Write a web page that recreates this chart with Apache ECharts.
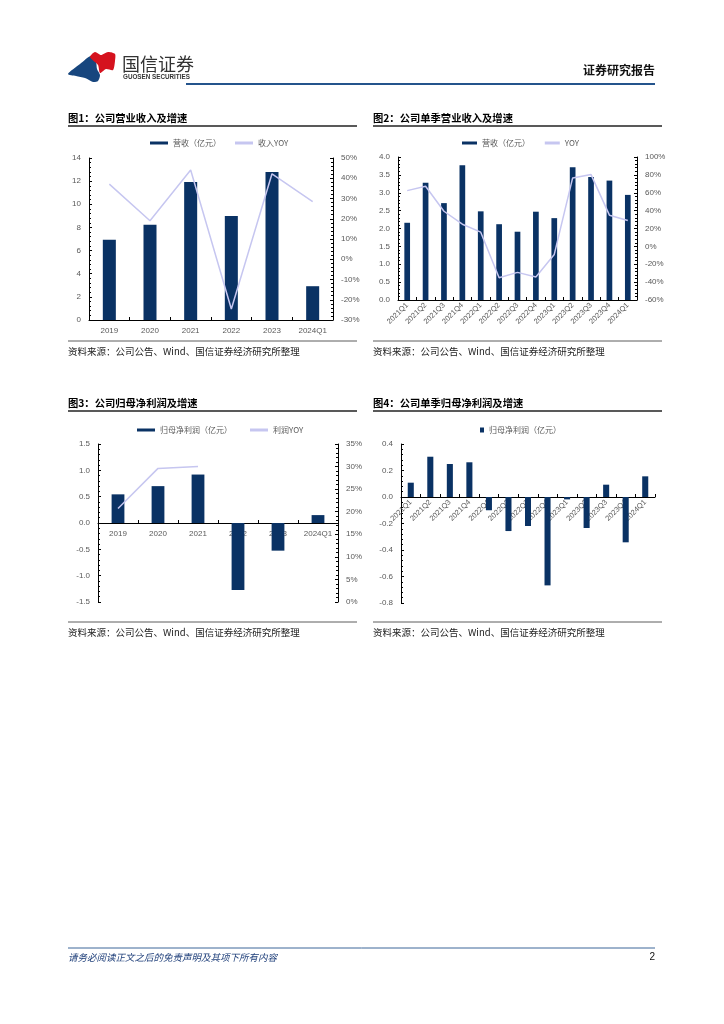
<!DOCTYPE html>
<html>
<head>
<meta charset="utf-8">
<script src="https://cdn.jsdelivr.net/npm/echarts@6/dist/echarts.min.js"></script>
<style>
html,body{margin:0;padding:0;background:#fff;}
#page{width:724px;height:1024px;}
</style>
</head>
<body>
<div id="page"></div>
<script>
// ---- data ----
const years = ['2019', '2020', '2021', '2022', '2023', '2024Q1'];
const revenue = [6.93, 8.23, 11.92, 8.98, 12.79, 2.92];
const revenueYoy = [37.1, 19.0, 44.1, -24.6, 42.2, 28.5];

const quarters = ['2021Q1', '2021Q2', '2021Q3', '2021Q4', '2022Q1', '2022Q2', '2022Q3', '2022Q4', '2023Q1', '2023Q2', '2023Q3', '2023Q4', '2024Q1'];
const qRevenue = [2.16, 3.28, 2.71, 3.77, 2.48, 2.12, 1.91, 2.47, 2.29, 3.71, 3.44, 3.34, 2.94];
const qRevenueYoy = [62.4, 67.3, 39.3, 24.8, 15.9, -35.0, -29.1, -34.3, -9.0, 76.6, 80.3, 34.9, 28.9];

const netProfit = [0.544, 0.70, 0.92, -1.27, -0.525, 0.15];
const profitYoy = [20.7, 29.6, 30.0, null, null, null];

const qNetProfit = [0.108, 0.304, 0.249, 0.262, -0.10, -0.257, -0.219, -0.667, -0.018, -0.234, 0.093, -0.342, 0.156];

const titles = ['图1：公司营业收入及增速', '图2：公司单季营业收入及增速', '图3：公司归母净利润及增速', '图4：公司单季归母净利润及增速'];
const sourceText = '资料来源：公司公告、Wind、国信证券经济研究所整理';

// ---- styles ----
const BAR = '#0a3264';
const LINE = '#c6c6f0';
const TXT = '#595959';
const FONT = 'Liberation Sans, Noto Sans CJK SC, sans-serif';
const CJK = 'Noto Sans CJK SC, sans-serif';

const chart = echarts.init(document.getElementById('page'), null, {renderer: 'canvas', width: 724, height: 1024});

const labelStyle = {color: TXT, fontSize: 8, fontFamily: FONT};
function valAxis(gi, pos, min, max, interval, fmt) {
  return {
    type: 'value', gridIndex: gi, position: pos, min: min, max: max, interval: interval,
    axisLine: {show: true, lineStyle: {color: '#000', width: 1}},
    axisTick: {show: true, inside: true, length: 3, lineStyle: {color: '#000'}},
    minorTick: {show: true, splitNumber: 5, length: 2, lineStyle: {color: '#000'}},
    splitLine: {show: false},
    axisLabel: Object.assign({formatter: fmt, margin: 8}, labelStyle)
  };
}
function catAxis(gi, data, rotate) {
  return {
    type: 'category', gridIndex: gi, data: data, offset: 0,
    axisLine: {show: true, onZero: false, lineStyle: {color: '#000', width: 1}},
    axisTick: {show: true, inside: true, length: 3, lineStyle: {color: '#000'}},
    axisLabel: Object.assign({rotate: rotate, margin: rotate ? 4 : 7, interval: 0}, labelStyle, rotate ? {fontSize: 7.5} : {})
  };
}
const fix1 = v => v.toFixed(1);
const pct = v => v + '%';

function hline(x1, x2, y, w, c) {
  return {type: 'line', shape: {x1: x1, y1: y, x2: x2, y2: y}, style: {stroke: c, lineWidth: w}, silent: true};
}
function txt(x, y, t, size, opts) {
  return {type: 'text', x: x, y: y, silent: true,
    style: Object.assign({text: t, fontSize: size, fontFamily: CJK, fill: '#000', verticalAlign: 'middle'}, opts || {})};
}

const graphics = [
  // logo
  {type: 'polygon', silent: true, shape: {points: [[68, 74], [80, 64], [91, 56], [96, 62], [97, 69], [100, 75], [98, 81], [93, 82], [85, 78], [76, 76]], smooth: 0.25}, style: {fill: '#17467e'}},
  {type: 'polygon', silent: true, shape: {points: [[90, 57], [95, 52], [101, 55], [108, 52], [115, 54], [115, 61], [113, 70], [106, 69], [100, 73], [98, 65]], smooth: 0.25}, style: {fill: '#d5121e'}},
  txt(122, 64, '国信证券', 18, {fill: '#333'}),
  txt(123, 77.5, 'GUOSEN SECURITIES', 6.3, {fill: '#333', fontFamily: 'Liberation Sans, sans-serif', fontWeight: 'bold'}),
  txt(655, 70, '证券研究报告', 12, {fontWeight: 'bold', align: 'right', fill: '#111'}),
  hline(186, 655, 84, 2, '#24548c'),
  // titles
  txt(68, 118, titles[0], 10.3, {fontWeight: 'bold'}),
  txt(373, 118, titles[1], 10.3, {fontWeight: 'bold'}),
  txt(68, 403, titles[2], 10.3, {fontWeight: 'bold'}),
  txt(373, 403, titles[3], 10.3, {fontWeight: 'bold'}),
  hline(68, 357, 126, 1.3, '#222'),
  hline(373, 662, 126, 1.3, '#222'),
  hline(68, 357, 411, 1.3, '#222'),
  hline(373, 662, 411, 1.3, '#222'),
  // sources
  hline(68, 357, 341, 0.8, '#333'),
  hline(373, 662, 341, 0.8, '#333'),
  hline(68, 357, 622, 0.8, '#333'),
  hline(373, 662, 622, 0.8, '#333'),
  txt(68, 351, sourceText, 9.5, {fill: '#222'}),
  txt(373, 351, sourceText, 9.5, {fill: '#222'}),
  txt(68, 632, sourceText, 9.5, {fill: '#222'}),
  txt(373, 632, sourceText, 9.5, {fill: '#222'}),
  // footer
  hline(68, 655, 948, 1, '#3d6699'),
  txt(68, 957, '请务必阅读正文之后的免责声明及其项下所有内容', 9.5, {fill: '#1f3f7a', fontStyle: 'italic'}),
  txt(655, 957, '2', 10, {align: 'right', fill: '#111', fontFamily: 'Liberation Sans, sans-serif'})
];

const legendText = {color: TXT, fontSize: 8, fontFamily: CJK};

const option = {
  backgroundColor: '#fff',
  animation: false,
  graphic: {elements: graphics},
  grid: [
    {left: 89, top: 158, width: 244, height: 162},
    {left: 398, top: 157, width: 239, height: 143},
    {left: 98, top: 444, width: 240, height: 158},
    {left: 401, top: 444, width: 254, height: 159}
  ],
  legend: [
    {left: 150, top: 139, padding: 0, itemGap: 14, textStyle: legendText, itemWidth: 18, itemHeight: 3, data: [
      {name: '营收（亿元）', icon: 'rect'},
      {name: '收入YOY', icon: 'rect'}]},
    {left: 462, top: 139, padding: 0, itemGap: 13, textStyle: legendText, itemWidth: 15, itemHeight: 3, data: [
      {name: '营收（亿元） ', icon: 'rect'},
      {name: 'YOY', icon: 'rect'}]},
    {left: 137, top: 426, padding: 0, itemGap: 18, textStyle: legendText, itemWidth: 18, itemHeight: 3, data: [
      {name: '归母净利润（亿元）', icon: 'rect'},
      {name: '利润YOY', icon: 'rect'}]},
    {left: 480, top: 426, padding: 0, textStyle: legendText, itemWidth: 4, itemHeight: 5, data: [
      {name: '归母净利润（亿元） ', icon: 'rect'}]}
  ],
  xAxis: [
    catAxis(0, years, 0),
    catAxis(1, quarters, 45),
    catAxis(2, years, 0),
    catAxis(3, quarters, 45)
  ],
  yAxis: [
    valAxis(0, 'left', 0, 14, 2, v => String(v)),
    valAxis(0, 'right', -30, 50, 10, pct),
    valAxis(1, 'left', 0, 4, 0.5, fix1),
    valAxis(1, 'right', -60, 100, 20, pct),
    valAxis(2, 'left', -1.5, 1.5, 0.5, fix1),
    valAxis(2, 'right', 0, 35, 5, pct),
    valAxis(3, 'left', -0.8, 0.4, 0.2, fix1)
  ],
  series: [
    {name: '营收（亿元）', type: 'bar', xAxisIndex: 0, yAxisIndex: 0, data: revenue, barWidth: '32%', itemStyle: {color: BAR}},
    {name: '收入YOY', type: 'line', xAxisIndex: 0, yAxisIndex: 1, data: revenueYoy, symbol: 'none', lineStyle: {color: LINE, width: 1.5}, itemStyle: {color: LINE}},
    {name: '营收（亿元） ', type: 'bar', xAxisIndex: 1, yAxisIndex: 2, data: qRevenue, barWidth: '31%', itemStyle: {color: BAR}},
    {name: 'YOY', type: 'line', xAxisIndex: 1, yAxisIndex: 3, data: qRevenueYoy, symbol: 'none', lineStyle: {color: LINE, width: 1.5}, itemStyle: {color: LINE}},
    {name: '归母净利润（亿元）', type: 'bar', xAxisIndex: 2, yAxisIndex: 4, data: netProfit, barWidth: '32%', itemStyle: {color: BAR}},
    {name: '利润YOY', type: 'line', xAxisIndex: 2, yAxisIndex: 5, data: profitYoy, symbol: 'none', lineStyle: {color: LINE, width: 1.5}, itemStyle: {color: LINE}},
    {name: '归母净利润（亿元） ', type: 'bar', xAxisIndex: 3, yAxisIndex: 6, data: qNetProfit, barWidth: '31%', itemStyle: {color: BAR}}
  ]
};
chart.setOption(option);

// move the category axes of charts 3 and 4 to the zero line of their value axes
function zeroOffset(xIdx, yIdx) {
  const rect = chart.getModel().getComponent('grid', option.xAxis[xIdx].gridIndex).coordinateSystem.getRect();
  const zeroPx = chart.convertToPixel({yAxisIndex: yIdx}, 0);
  return zeroPx - (rect.y + rect.height);
}
const off2 = zeroOffset(2, 4);
const off3 = zeroOffset(3, 6);
chart.setOption({xAxis: [{}, {}, {offset: off2}, {offset: off3}]});
</script>
</body>
</html>
